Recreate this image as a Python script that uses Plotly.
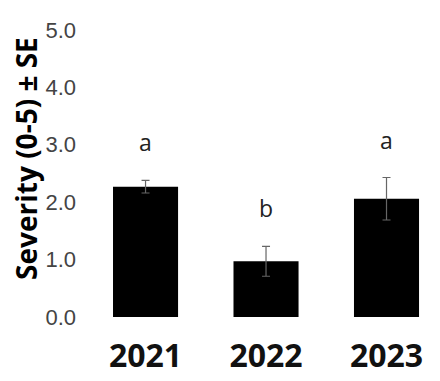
import plotly.graph_objects as go

years = ["2021", "2022", "2023"]
severity = [2.27, 0.97, 2.06]
se = [0.11, 0.26, 0.37]
letters = ["a", "b", "a"]
y_ticks = [0.0, 1.0, 2.0, 3.0, 4.0, 5.0]
y_tick_labels = ["0.0", "1.0", "2.0", "3.0", "4.0", "5.0"]

fig = go.Figure()
fig.add_trace(go.Bar(
    x=years, y=severity, width=0.54,
    marker=dict(color="black", line=dict(width=0)),
    error_y=dict(type="data", array=se, visible=True, color="#666666", thickness=1.2, width=4),
))

for i, (m, s, l) in enumerate(zip(severity, se, letters)):
    fig.add_annotation(x=i, y=m + s, xref="x", yref="y", text=l, showarrow=False,
                       yanchor="middle", yshift=38,
                       font=dict(family="Open Sans, Arial", size=23, color="#222222"))

fig.add_annotation(xref="paper", yref="paper", x=-0.15, y=0.52, text="<b>Severity (0-5) ± SE</b>",
                   textangle=-90, showarrow=False, xanchor="center", yanchor="middle", borderpad=0,
                   font=dict(family="Open Sans, Arial", size=28, color="black"))

fig.update_layout(
    width=440, height=381,
    margin=dict(l=72, r=8, t=5, b=71.5),
    plot_bgcolor="white", paper_bgcolor="white",
    showlegend=False,
    xaxis=dict(type="category", range=[-0.544, 2.444], showline=False, showgrid=False, ticks="",
               tickfont=dict(family="Open Sans, Arial", size=32, color="#111111", weight="bold"),
               ticklabelstandoff=17),
    yaxis=dict(range=[0, 5.296], tickvals=y_ticks, ticktext=y_tick_labels, showline=False,
               showgrid=False, zeroline=False, ticks="",
               tickfont=dict(family="Arial", size=22, color="#444444"), ticklabelstandoff=3),
)

fig.write_html("out.html")
